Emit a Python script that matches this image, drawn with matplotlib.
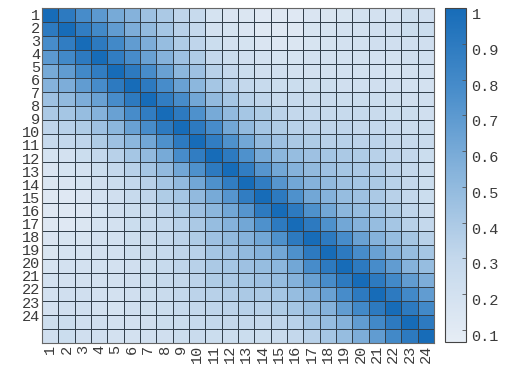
import numpy as np
import matplotlib
matplotlib.use('Agg')
import matplotlib.pyplot as plt
from matplotlib.colors import LinearSegmentedColormap

plt.rcParams['font.family'] = ['Liberation Mono', 'DejaVu Sans Mono']

labels = [str(i) for i in range(1, 25)]

# upper triangle of the matrix, row by row (diagonal first)
upper = [
    [1.0, 0.90, 0.78, 0.70, 0.60, 0.55, 0.45, 0.40, 0.32, 0.28, 0.18, 0.15, 0.14, 0.12, 0.12, 0.12, 0.15, 0.16, 0.17, 0.20, 0.20, 0.20, 0.24, 0.22],
    [1.0, 0.88, 0.80, 0.68, 0.58, 0.50, 0.42, 0.35, 0.30, 0.20, 0.18, 0.15, 0.12, 0.12, 0.12, 0.17, 0.18, 0.20, 0.20, 0.22, 0.22, 0.25, 0.25],
    [1.0, 0.90, 0.80, 0.68, 0.58, 0.48, 0.38, 0.32, 0.25, 0.20, 0.18, 0.15, 0.13, 0.14, 0.17, 0.18, 0.20, 0.20, 0.22, 0.22, 0.22, 0.22],
    [1.0, 0.88, 0.78, 0.65, 0.55, 0.45, 0.38, 0.30, 0.25, 0.22, 0.20, 0.18, 0.18, 0.20, 0.20, 0.20, 0.20, 0.20, 0.20, 0.22, 0.22],
    [1.0, 0.90, 0.78, 0.65, 0.52, 0.45, 0.35, 0.30, 0.25, 0.22, 0.22, 0.20, 0.20, 0.20, 0.20, 0.20, 0.20, 0.18, 0.20, 0.20],
    [1.0, 0.90, 0.78, 0.65, 0.52, 0.42, 0.35, 0.30, 0.28, 0.25, 0.25, 0.24, 0.24, 0.22, 0.22, 0.22, 0.22, 0.20, 0.20],
    [1.0, 0.88, 0.78, 0.62, 0.50, 0.42, 0.35, 0.32, 0.28, 0.28, 0.27, 0.27, 0.25, 0.25, 0.25, 0.24, 0.22, 0.22],
    [1.0, 0.90, 0.75, 0.60, 0.50, 0.42, 0.38, 0.33, 0.30, 0.30, 0.28, 0.28, 0.28, 0.27, 0.25, 0.25, 0.22],
    [1.0, 0.90, 0.78, 0.62, 0.50, 0.42, 0.38, 0.35, 0.33, 0.32, 0.32, 0.30, 0.30, 0.28, 0.25, 0.25],
    [1.0, 0.88, 0.75, 0.62, 0.50, 0.45, 0.40, 0.38, 0.35, 0.35, 0.33, 0.33, 0.30, 0.28, 0.27],
    [1.0, 0.90, 0.75, 0.60, 0.52, 0.48, 0.45, 0.42, 0.40, 0.38, 0.35, 0.32, 0.30, 0.25],
    [1.0, 0.88, 0.72, 0.62, 0.55, 0.50, 0.45, 0.42, 0.40, 0.37, 0.33, 0.30, 0.25],
    [1.0, 0.88, 0.72, 0.62, 0.55, 0.50, 0.45, 0.42, 0.40, 0.35, 0.30, 0.25],
    [1.0, 0.90, 0.75, 0.62, 0.55, 0.48, 0.45, 0.40, 0.35, 0.30, 0.25],
    [1.0, 0.90, 0.75, 0.62, 0.52, 0.48, 0.42, 0.38, 0.32, 0.27],
    [1.0, 0.90, 0.75, 0.62, 0.55, 0.48, 0.42, 0.35, 0.30],
    [1.0, 0.90, 0.78, 0.65, 0.55, 0.48, 0.42, 0.35],
    [1.0, 0.90, 0.78, 0.65, 0.55, 0.48, 0.42],
    [1.0, 0.90, 0.78, 0.68, 0.55, 0.48],
    [1.0, 0.90, 0.80, 0.68, 0.58],
    [1.0, 0.90, 0.80, 0.68],
    [1.0, 0.90, 0.80],
    [1.0, 0.90],
    [1.0],
]

n = len(labels)
corr = np.zeros((n, n))
for i, row in enumerate(upper):
    corr[i, i:] = row
    corr[i:, i] = row

cmap = LinearSegmentedColormap.from_list(
    'blu', [(0.0, '#e6edf5'), (0.25, '#c4d8ec'), (0.5, '#89b5dc'),
            (0.75, '#4a8ecb'), (1.0, '#176cb8')])

fig = plt.figure(figsize=(5.16, 3.65), dpi=100)
ax = fig.add_axes([42 / 516, 1 - 343 / 365, 392 / 516, 335 / 365])
cax = fig.add_axes([445 / 516, 1 - 342 / 365, 21 / 516, 334 / 365])

mesh = ax.pcolormesh(corr, cmap=cmap, vmin=0.066, vmax=1.0,
                     edgecolors='#33404c', linewidth=0.55)
ax.set_xlim(0, n)
ax.set_ylim(n, 0)

ax.set_xticks(np.arange(n) + 0.5)
ax.set_xticklabels(labels, rotation=90, fontsize=11, color='#3a3a3a')
ytick_pos = 0.43 + np.arange(n) * 0.938
ax.set_yticks(ytick_pos)
ax.set_yticklabels(labels, fontsize=11, color='#3a3a3a')
ax.tick_params(length=0, pad=1.5)
for s in ax.spines.values():
    s.set_color('#666666')
    s.set_linewidth(0.8)

cb = fig.colorbar(mesh, cax=cax)
cb.set_ticks([0.1, 0.2, 0.3, 0.4, 0.5, 0.6, 0.7, 0.8, 0.9, 1.0])
cb.set_ticklabels(['0.1', '0.2', '0.3', '0.4', '0.5', '0.6', '0.7', '0.8', '0.9', '1'])
cax.tick_params(direction='in', length=3, width=0.6, color='#555555',
                labelsize=11, labelcolor='#3a3a3a', pad=4)
for t in cax.get_yticklabels():
    t.set_verticalalignment('top')
cb.outline.set_edgecolor('#444444')
cb.outline.set_linewidth(0.8)

fig.savefig('out.png', dpi=100)
